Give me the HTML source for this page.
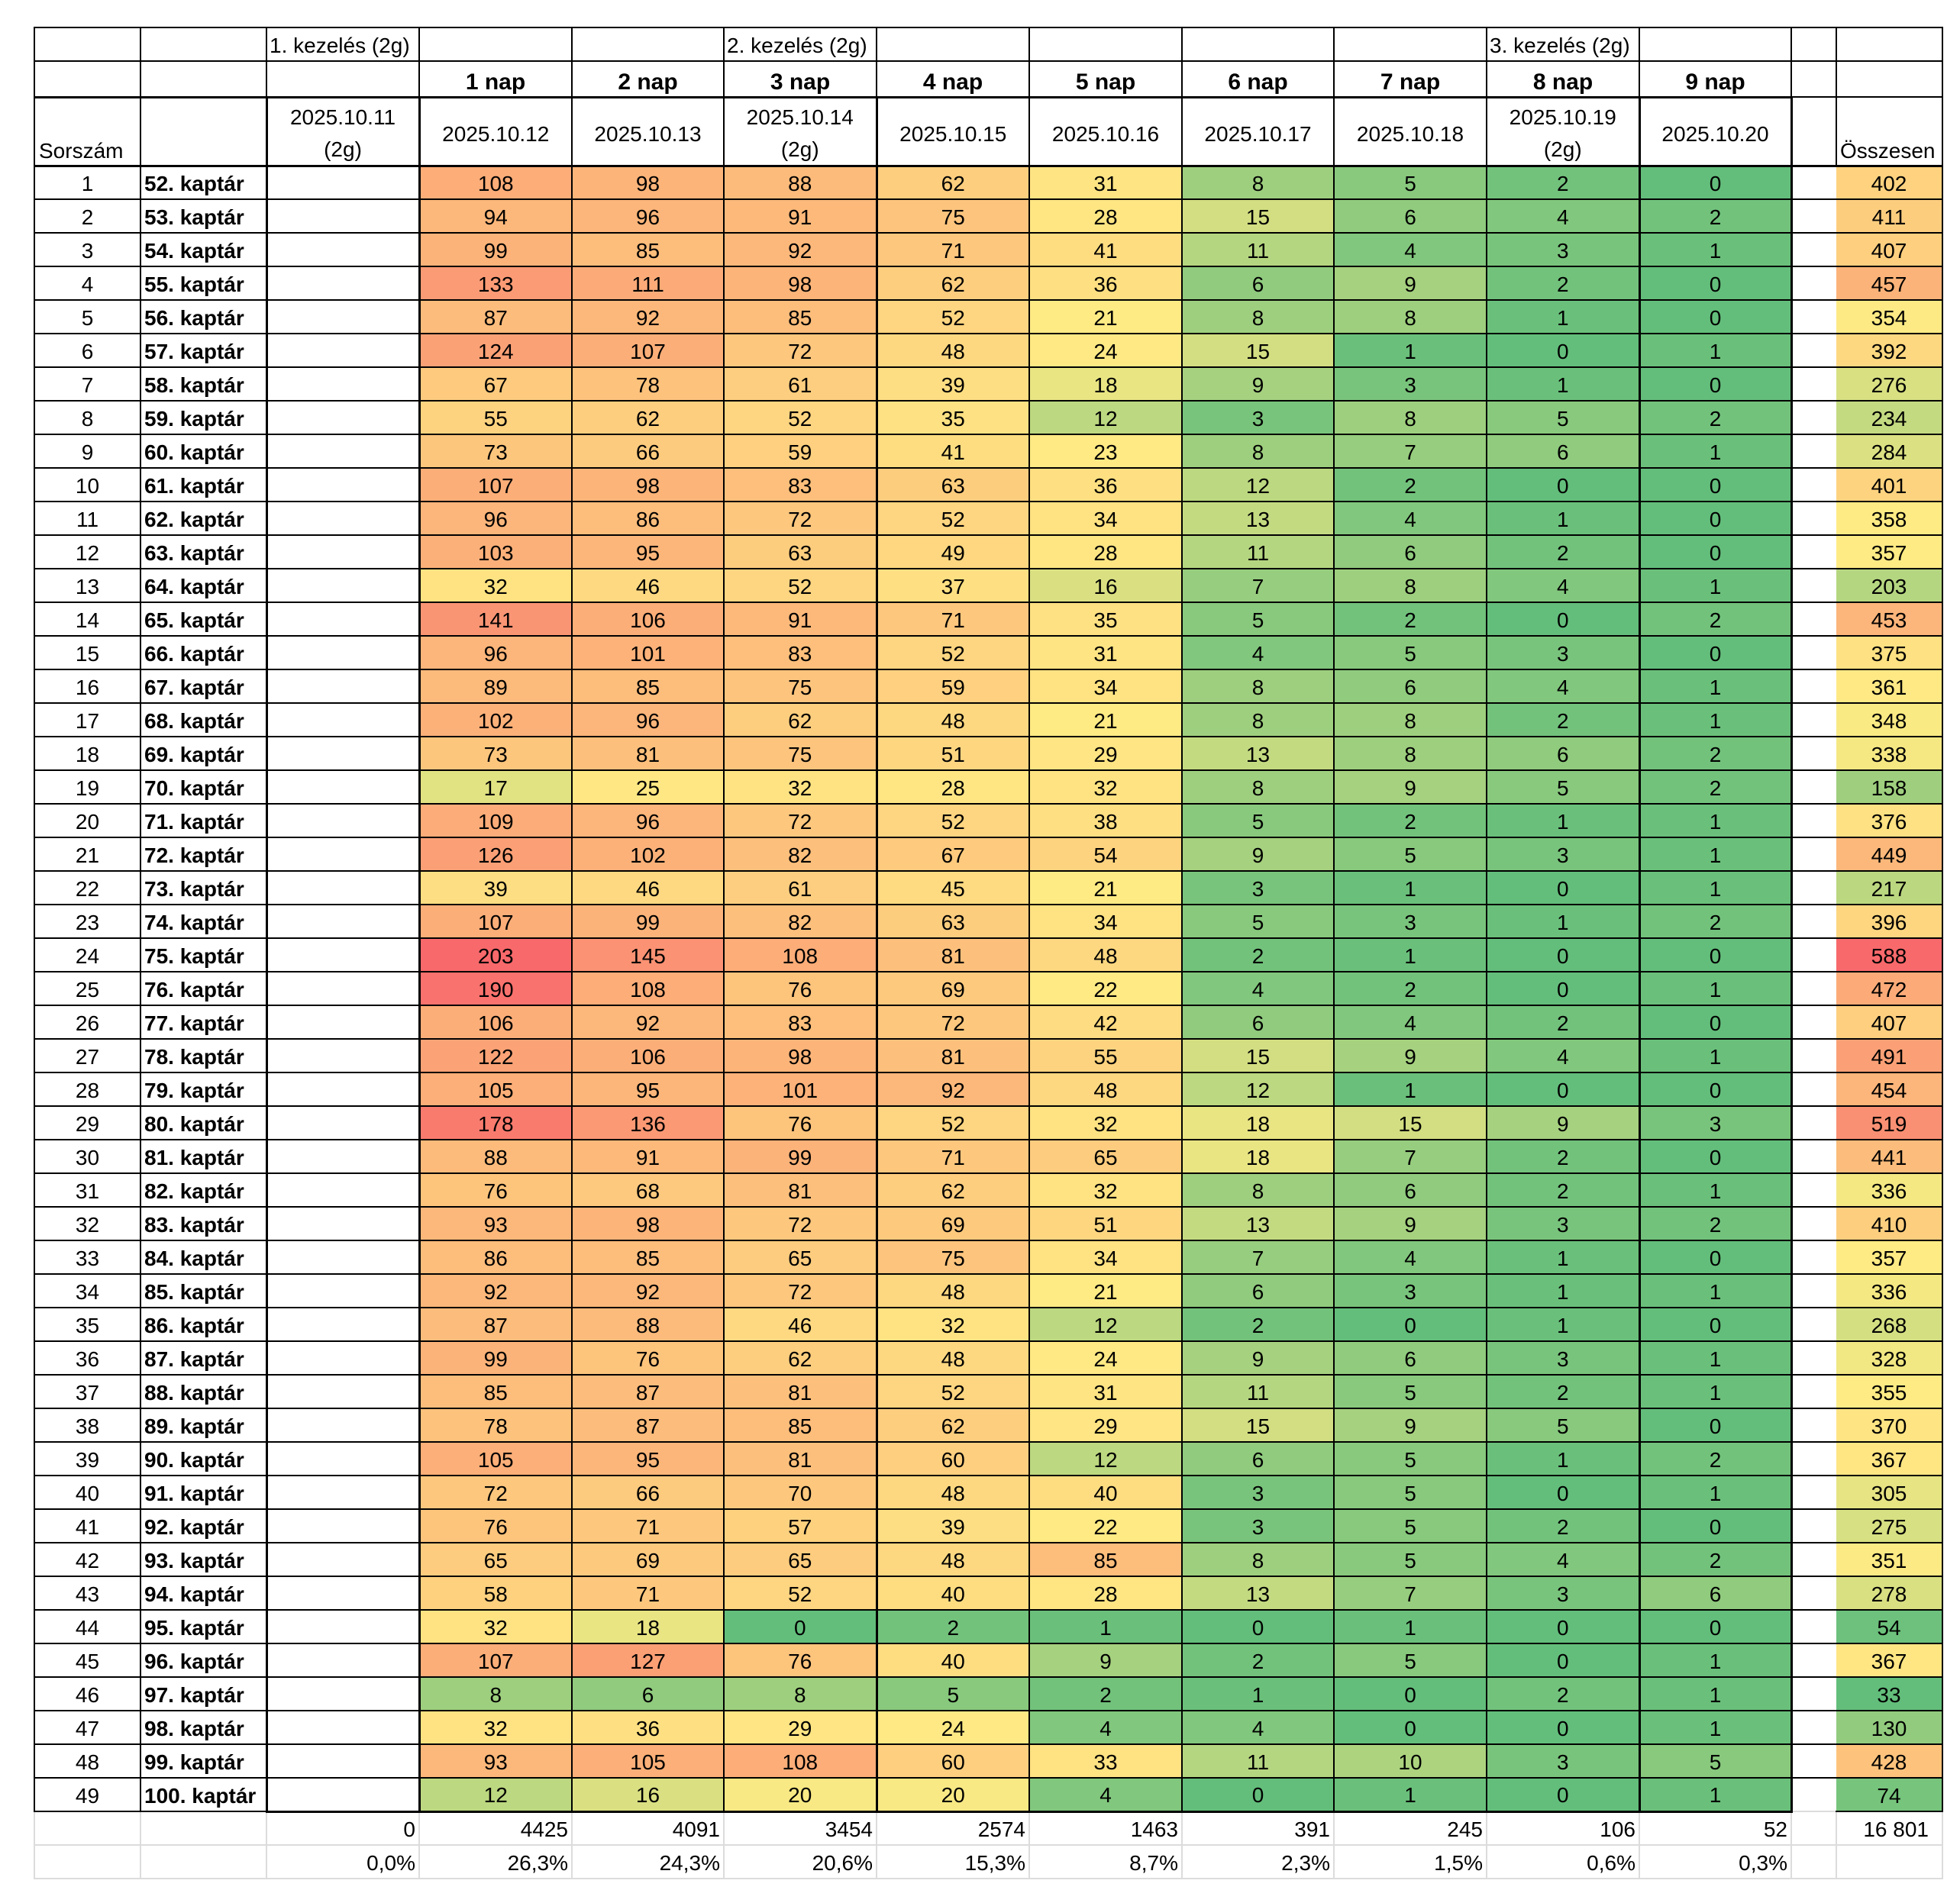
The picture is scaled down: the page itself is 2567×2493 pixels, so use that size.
<!DOCTYPE html>
<html>
<head>
<meta charset="utf-8">
<style>
html,body{margin:0;padding:0;background:#fff;}
body{width:2567px;height:2493px;overflow:hidden;position:relative;}
table{position:absolute;left:44px;top:35px;border-collapse:collapse;table-layout:fixed;width:2501px;font-family:"Liberation Sans",Arial,sans-serif;font-size:28px;color:#000;}
td{border:2px solid #000;padding:0;white-space:nowrap;overflow:visible;text-align:center;}
tr.a{height:44px}
tr.a td{vertical-align:bottom;padding-bottom:3px;text-align:left;padding-left:3px}
tr.b{height:47px}
tr.b td{vertical-align:bottom;padding-bottom:1px;font-weight:bold;font-size:30px;border-bottom-width:3px}
tr.b td:nth-child(n+13){border-bottom-width:2px}
tr.h{height:90px}
tr.h td{border-bottom-width:3px;vertical-align:middle}
tr.h td div{position:relative;top:4px}
tr.h td div.m{line-height:42px;top:3px}
tr.h td.bl{vertical-align:bottom;text-align:left;padding-bottom:2px;padding-left:5px}
tr.h td.bl2{vertical-align:bottom;text-align:left;padding-bottom:2px;padding-left:4px}
tr.h td:nth-child(3),tr.r td:nth-child(3){border-left-width:3px;border-right-width:3px}
tr.h td:nth-child(6),tr.r td:nth-child(6){border-right-width:3px}
tr.h td:nth-child(12),tr.r td:nth-child(12){border-left-width:3px;border-right-width:3px}
tr.r{height:44px}
tr.r td{vertical-align:middle;padding-top:3px}
tr.r td:nth-child(2){font-weight:bold;text-align:left;padding-left:4px}
tr.r td:nth-child(13){border-right:none}
tr.r td:nth-child(14){border-left:none}
tr.last td:nth-child(n+3):nth-child(-n+12){border-bottom-width:3px}
tr.last td:nth-child(13){border-bottom:none}
tr.r td:nth-child(n+4):nth-child(-n+12){--t1:calc(min(var(--v), 21) / 21);--t2:calc(max(var(--v) - 21, 0) / 182)}
tr.r td:nth-child(14){--t1:calc((min(var(--v), 358) - 33) / 325);--t2:calc(max(var(--v) - 358, 0) / 230)}
tr.r td[style]{background:rgb(calc(99 + 156*var(--t1) - 7*var(--t2)),calc(190 + 45*var(--t1) - 130*var(--t2)),calc(123 + 9*var(--t1) - 25*var(--t2)))}
tr.f{height:44px}
tr.f td{border:2px solid #DCDCDC;text-align:right;padding-right:4px;vertical-align:middle;padding-top:3px}
tr.f td.t{padding-right:17px}
</style>
</head>
<body>
<table>
<colgroup>
<col style="width:139px"><col style="width:165px"><col style="width:200px">
<col style="width:200px"><col style="width:199px"><col style="width:200px"><col style="width:200px"><col style="width:200px"><col style="width:199px"><col style="width:200px"><col style="width:200px"><col style="width:199px">
<col style="width:59px"><col style="width:139px">
</colgroup>
<tr class="a"><td></td><td></td><td>1. kezelés (2g)</td><td></td><td></td><td>2. kezelés (2g)</td><td></td><td></td><td></td><td></td><td>3. kezelés (2g)</td><td></td><td></td><td></td></tr>
<tr class="b"><td></td><td></td><td></td><td>1 nap</td><td>2 nap</td><td>3 nap</td><td>4 nap</td><td>5 nap</td><td>6 nap</td><td>7 nap</td><td>8 nap</td><td>9 nap</td><td></td><td></td></tr>
<tr class="h"><td class="bl">Sorszám</td><td></td><td><div class="m">2025.10.11<br>(2g)</div></td><td><div>2025.10.12</div></td><td><div>2025.10.13</div></td><td><div class="m">2025.10.14<br>(2g)</div></td><td><div>2025.10.15</div></td><td><div>2025.10.16</div></td><td><div>2025.10.17</div></td><td><div>2025.10.18</div></td><td><div class="m">2025.10.19<br>(2g)</div></td><td><div>2025.10.20</div></td><td></td><td class="bl2">Összesen</td></tr>
<tr class="r"><td>1</td><td>52. kaptár</td><td></td><td style="--v:108">108</td><td style="--v:98">98</td><td style="--v:88">88</td><td style="--v:62">62</td><td style="--v:31">31</td><td style="--v:8">8</td><td style="--v:5">5</td><td style="--v:2">2</td><td style="--v:0">0</td><td></td><td style="--v:402">402</td></tr>
<tr class="r"><td>2</td><td>53. kaptár</td><td></td><td style="--v:94">94</td><td style="--v:96">96</td><td style="--v:91">91</td><td style="--v:75">75</td><td style="--v:28">28</td><td style="--v:15">15</td><td style="--v:6">6</td><td style="--v:4">4</td><td style="--v:2">2</td><td></td><td style="--v:411">411</td></tr>
<tr class="r"><td>3</td><td>54. kaptár</td><td></td><td style="--v:99">99</td><td style="--v:85">85</td><td style="--v:92">92</td><td style="--v:71">71</td><td style="--v:41">41</td><td style="--v:11">11</td><td style="--v:4">4</td><td style="--v:3">3</td><td style="--v:1">1</td><td></td><td style="--v:407">407</td></tr>
<tr class="r"><td>4</td><td>55. kaptár</td><td></td><td style="--v:133">133</td><td style="--v:111">111</td><td style="--v:98">98</td><td style="--v:62">62</td><td style="--v:36">36</td><td style="--v:6">6</td><td style="--v:9">9</td><td style="--v:2">2</td><td style="--v:0">0</td><td></td><td style="--v:457">457</td></tr>
<tr class="r"><td>5</td><td>56. kaptár</td><td></td><td style="--v:87">87</td><td style="--v:92">92</td><td style="--v:85">85</td><td style="--v:52">52</td><td style="--v:21">21</td><td style="--v:8">8</td><td style="--v:8">8</td><td style="--v:1">1</td><td style="--v:0">0</td><td></td><td style="--v:354">354</td></tr>
<tr class="r"><td>6</td><td>57. kaptár</td><td></td><td style="--v:124">124</td><td style="--v:107">107</td><td style="--v:72">72</td><td style="--v:48">48</td><td style="--v:24">24</td><td style="--v:15">15</td><td style="--v:1">1</td><td style="--v:0">0</td><td style="--v:1">1</td><td></td><td style="--v:392">392</td></tr>
<tr class="r"><td>7</td><td>58. kaptár</td><td></td><td style="--v:67">67</td><td style="--v:78">78</td><td style="--v:61">61</td><td style="--v:39">39</td><td style="--v:18">18</td><td style="--v:9">9</td><td style="--v:3">3</td><td style="--v:1">1</td><td style="--v:0">0</td><td></td><td style="--v:276">276</td></tr>
<tr class="r"><td>8</td><td>59. kaptár</td><td></td><td style="--v:55">55</td><td style="--v:62">62</td><td style="--v:52">52</td><td style="--v:35">35</td><td style="--v:12">12</td><td style="--v:3">3</td><td style="--v:8">8</td><td style="--v:5">5</td><td style="--v:2">2</td><td></td><td style="--v:234">234</td></tr>
<tr class="r"><td>9</td><td>60. kaptár</td><td></td><td style="--v:73">73</td><td style="--v:66">66</td><td style="--v:59">59</td><td style="--v:41">41</td><td style="--v:23">23</td><td style="--v:8">8</td><td style="--v:7">7</td><td style="--v:6">6</td><td style="--v:1">1</td><td></td><td style="--v:284">284</td></tr>
<tr class="r"><td>10</td><td>61. kaptár</td><td></td><td style="--v:107">107</td><td style="--v:98">98</td><td style="--v:83">83</td><td style="--v:63">63</td><td style="--v:36">36</td><td style="--v:12">12</td><td style="--v:2">2</td><td style="--v:0">0</td><td style="--v:0">0</td><td></td><td style="--v:401">401</td></tr>
<tr class="r"><td>11</td><td>62. kaptár</td><td></td><td style="--v:96">96</td><td style="--v:86">86</td><td style="--v:72">72</td><td style="--v:52">52</td><td style="--v:34">34</td><td style="--v:13">13</td><td style="--v:4">4</td><td style="--v:1">1</td><td style="--v:0">0</td><td></td><td style="--v:358">358</td></tr>
<tr class="r"><td>12</td><td>63. kaptár</td><td></td><td style="--v:103">103</td><td style="--v:95">95</td><td style="--v:63">63</td><td style="--v:49">49</td><td style="--v:28">28</td><td style="--v:11">11</td><td style="--v:6">6</td><td style="--v:2">2</td><td style="--v:0">0</td><td></td><td style="--v:357">357</td></tr>
<tr class="r"><td>13</td><td>64. kaptár</td><td></td><td style="--v:32">32</td><td style="--v:46">46</td><td style="--v:52">52</td><td style="--v:37">37</td><td style="--v:16">16</td><td style="--v:7">7</td><td style="--v:8">8</td><td style="--v:4">4</td><td style="--v:1">1</td><td></td><td style="--v:203">203</td></tr>
<tr class="r"><td>14</td><td>65. kaptár</td><td></td><td style="--v:141">141</td><td style="--v:106">106</td><td style="--v:91">91</td><td style="--v:71">71</td><td style="--v:35">35</td><td style="--v:5">5</td><td style="--v:2">2</td><td style="--v:0">0</td><td style="--v:2">2</td><td></td><td style="--v:453">453</td></tr>
<tr class="r"><td>15</td><td>66. kaptár</td><td></td><td style="--v:96">96</td><td style="--v:101">101</td><td style="--v:83">83</td><td style="--v:52">52</td><td style="--v:31">31</td><td style="--v:4">4</td><td style="--v:5">5</td><td style="--v:3">3</td><td style="--v:0">0</td><td></td><td style="--v:375">375</td></tr>
<tr class="r"><td>16</td><td>67. kaptár</td><td></td><td style="--v:89">89</td><td style="--v:85">85</td><td style="--v:75">75</td><td style="--v:59">59</td><td style="--v:34">34</td><td style="--v:8">8</td><td style="--v:6">6</td><td style="--v:4">4</td><td style="--v:1">1</td><td></td><td style="--v:361">361</td></tr>
<tr class="r"><td>17</td><td>68. kaptár</td><td></td><td style="--v:102">102</td><td style="--v:96">96</td><td style="--v:62">62</td><td style="--v:48">48</td><td style="--v:21">21</td><td style="--v:8">8</td><td style="--v:8">8</td><td style="--v:2">2</td><td style="--v:1">1</td><td></td><td style="--v:348">348</td></tr>
<tr class="r"><td>18</td><td>69. kaptár</td><td></td><td style="--v:73">73</td><td style="--v:81">81</td><td style="--v:75">75</td><td style="--v:51">51</td><td style="--v:29">29</td><td style="--v:13">13</td><td style="--v:8">8</td><td style="--v:6">6</td><td style="--v:2">2</td><td></td><td style="--v:338">338</td></tr>
<tr class="r"><td>19</td><td>70. kaptár</td><td></td><td style="--v:17">17</td><td style="--v:25">25</td><td style="--v:32">32</td><td style="--v:28">28</td><td style="--v:32">32</td><td style="--v:8">8</td><td style="--v:9">9</td><td style="--v:5">5</td><td style="--v:2">2</td><td></td><td style="--v:158">158</td></tr>
<tr class="r"><td>20</td><td>71. kaptár</td><td></td><td style="--v:109">109</td><td style="--v:96">96</td><td style="--v:72">72</td><td style="--v:52">52</td><td style="--v:38">38</td><td style="--v:5">5</td><td style="--v:2">2</td><td style="--v:1">1</td><td style="--v:1">1</td><td></td><td style="--v:376">376</td></tr>
<tr class="r"><td>21</td><td>72. kaptár</td><td></td><td style="--v:126">126</td><td style="--v:102">102</td><td style="--v:82">82</td><td style="--v:67">67</td><td style="--v:54">54</td><td style="--v:9">9</td><td style="--v:5">5</td><td style="--v:3">3</td><td style="--v:1">1</td><td></td><td style="--v:449">449</td></tr>
<tr class="r"><td>22</td><td>73. kaptár</td><td></td><td style="--v:39">39</td><td style="--v:46">46</td><td style="--v:61">61</td><td style="--v:45">45</td><td style="--v:21">21</td><td style="--v:3">3</td><td style="--v:1">1</td><td style="--v:0">0</td><td style="--v:1">1</td><td></td><td style="--v:217">217</td></tr>
<tr class="r"><td>23</td><td>74. kaptár</td><td></td><td style="--v:107">107</td><td style="--v:99">99</td><td style="--v:82">82</td><td style="--v:63">63</td><td style="--v:34">34</td><td style="--v:5">5</td><td style="--v:3">3</td><td style="--v:1">1</td><td style="--v:2">2</td><td></td><td style="--v:396">396</td></tr>
<tr class="r"><td>24</td><td>75. kaptár</td><td></td><td style="--v:203">203</td><td style="--v:145">145</td><td style="--v:108">108</td><td style="--v:81">81</td><td style="--v:48">48</td><td style="--v:2">2</td><td style="--v:1">1</td><td style="--v:0">0</td><td style="--v:0">0</td><td></td><td style="--v:588">588</td></tr>
<tr class="r"><td>25</td><td>76. kaptár</td><td></td><td style="--v:190">190</td><td style="--v:108">108</td><td style="--v:76">76</td><td style="--v:69">69</td><td style="--v:22">22</td><td style="--v:4">4</td><td style="--v:2">2</td><td style="--v:0">0</td><td style="--v:1">1</td><td></td><td style="--v:472">472</td></tr>
<tr class="r"><td>26</td><td>77. kaptár</td><td></td><td style="--v:106">106</td><td style="--v:92">92</td><td style="--v:83">83</td><td style="--v:72">72</td><td style="--v:42">42</td><td style="--v:6">6</td><td style="--v:4">4</td><td style="--v:2">2</td><td style="--v:0">0</td><td></td><td style="--v:407">407</td></tr>
<tr class="r"><td>27</td><td>78. kaptár</td><td></td><td style="--v:122">122</td><td style="--v:106">106</td><td style="--v:98">98</td><td style="--v:81">81</td><td style="--v:55">55</td><td style="--v:15">15</td><td style="--v:9">9</td><td style="--v:4">4</td><td style="--v:1">1</td><td></td><td style="--v:491">491</td></tr>
<tr class="r"><td>28</td><td>79. kaptár</td><td></td><td style="--v:105">105</td><td style="--v:95">95</td><td style="--v:101">101</td><td style="--v:92">92</td><td style="--v:48">48</td><td style="--v:12">12</td><td style="--v:1">1</td><td style="--v:0">0</td><td style="--v:0">0</td><td></td><td style="--v:454">454</td></tr>
<tr class="r"><td>29</td><td>80. kaptár</td><td></td><td style="--v:178">178</td><td style="--v:136">136</td><td style="--v:76">76</td><td style="--v:52">52</td><td style="--v:32">32</td><td style="--v:18">18</td><td style="--v:15">15</td><td style="--v:9">9</td><td style="--v:3">3</td><td></td><td style="--v:519">519</td></tr>
<tr class="r"><td>30</td><td>81. kaptár</td><td></td><td style="--v:88">88</td><td style="--v:91">91</td><td style="--v:99">99</td><td style="--v:71">71</td><td style="--v:65">65</td><td style="--v:18">18</td><td style="--v:7">7</td><td style="--v:2">2</td><td style="--v:0">0</td><td></td><td style="--v:441">441</td></tr>
<tr class="r"><td>31</td><td>82. kaptár</td><td></td><td style="--v:76">76</td><td style="--v:68">68</td><td style="--v:81">81</td><td style="--v:62">62</td><td style="--v:32">32</td><td style="--v:8">8</td><td style="--v:6">6</td><td style="--v:2">2</td><td style="--v:1">1</td><td></td><td style="--v:336">336</td></tr>
<tr class="r"><td>32</td><td>83. kaptár</td><td></td><td style="--v:93">93</td><td style="--v:98">98</td><td style="--v:72">72</td><td style="--v:69">69</td><td style="--v:51">51</td><td style="--v:13">13</td><td style="--v:9">9</td><td style="--v:3">3</td><td style="--v:2">2</td><td></td><td style="--v:410">410</td></tr>
<tr class="r"><td>33</td><td>84. kaptár</td><td></td><td style="--v:86">86</td><td style="--v:85">85</td><td style="--v:65">65</td><td style="--v:75">75</td><td style="--v:34">34</td><td style="--v:7">7</td><td style="--v:4">4</td><td style="--v:1">1</td><td style="--v:0">0</td><td></td><td style="--v:357">357</td></tr>
<tr class="r"><td>34</td><td>85. kaptár</td><td></td><td style="--v:92">92</td><td style="--v:92">92</td><td style="--v:72">72</td><td style="--v:48">48</td><td style="--v:21">21</td><td style="--v:6">6</td><td style="--v:3">3</td><td style="--v:1">1</td><td style="--v:1">1</td><td></td><td style="--v:336">336</td></tr>
<tr class="r"><td>35</td><td>86. kaptár</td><td></td><td style="--v:87">87</td><td style="--v:88">88</td><td style="--v:46">46</td><td style="--v:32">32</td><td style="--v:12">12</td><td style="--v:2">2</td><td style="--v:0">0</td><td style="--v:1">1</td><td style="--v:0">0</td><td></td><td style="--v:268">268</td></tr>
<tr class="r"><td>36</td><td>87. kaptár</td><td></td><td style="--v:99">99</td><td style="--v:76">76</td><td style="--v:62">62</td><td style="--v:48">48</td><td style="--v:24">24</td><td style="--v:9">9</td><td style="--v:6">6</td><td style="--v:3">3</td><td style="--v:1">1</td><td></td><td style="--v:328">328</td></tr>
<tr class="r"><td>37</td><td>88. kaptár</td><td></td><td style="--v:85">85</td><td style="--v:87">87</td><td style="--v:81">81</td><td style="--v:52">52</td><td style="--v:31">31</td><td style="--v:11">11</td><td style="--v:5">5</td><td style="--v:2">2</td><td style="--v:1">1</td><td></td><td style="--v:355">355</td></tr>
<tr class="r"><td>38</td><td>89. kaptár</td><td></td><td style="--v:78">78</td><td style="--v:87">87</td><td style="--v:85">85</td><td style="--v:62">62</td><td style="--v:29">29</td><td style="--v:15">15</td><td style="--v:9">9</td><td style="--v:5">5</td><td style="--v:0">0</td><td></td><td style="--v:370">370</td></tr>
<tr class="r"><td>39</td><td>90. kaptár</td><td></td><td style="--v:105">105</td><td style="--v:95">95</td><td style="--v:81">81</td><td style="--v:60">60</td><td style="--v:12">12</td><td style="--v:6">6</td><td style="--v:5">5</td><td style="--v:1">1</td><td style="--v:2">2</td><td></td><td style="--v:367">367</td></tr>
<tr class="r"><td>40</td><td>91. kaptár</td><td></td><td style="--v:72">72</td><td style="--v:66">66</td><td style="--v:70">70</td><td style="--v:48">48</td><td style="--v:40">40</td><td style="--v:3">3</td><td style="--v:5">5</td><td style="--v:0">0</td><td style="--v:1">1</td><td></td><td style="--v:305">305</td></tr>
<tr class="r"><td>41</td><td>92. kaptár</td><td></td><td style="--v:76">76</td><td style="--v:71">71</td><td style="--v:57">57</td><td style="--v:39">39</td><td style="--v:22">22</td><td style="--v:3">3</td><td style="--v:5">5</td><td style="--v:2">2</td><td style="--v:0">0</td><td></td><td style="--v:275">275</td></tr>
<tr class="r"><td>42</td><td>93. kaptár</td><td></td><td style="--v:65">65</td><td style="--v:69">69</td><td style="--v:65">65</td><td style="--v:48">48</td><td style="--v:85">85</td><td style="--v:8">8</td><td style="--v:5">5</td><td style="--v:4">4</td><td style="--v:2">2</td><td></td><td style="--v:351">351</td></tr>
<tr class="r"><td>43</td><td>94. kaptár</td><td></td><td style="--v:58">58</td><td style="--v:71">71</td><td style="--v:52">52</td><td style="--v:40">40</td><td style="--v:28">28</td><td style="--v:13">13</td><td style="--v:7">7</td><td style="--v:3">3</td><td style="--v:6">6</td><td></td><td style="--v:278">278</td></tr>
<tr class="r"><td>44</td><td>95. kaptár</td><td></td><td style="--v:32">32</td><td style="--v:18">18</td><td style="--v:0">0</td><td style="--v:2">2</td><td style="--v:1">1</td><td style="--v:0">0</td><td style="--v:1">1</td><td style="--v:0">0</td><td style="--v:0">0</td><td></td><td style="--v:54">54</td></tr>
<tr class="r"><td>45</td><td>96. kaptár</td><td></td><td style="--v:107">107</td><td style="--v:127">127</td><td style="--v:76">76</td><td style="--v:40">40</td><td style="--v:9">9</td><td style="--v:2">2</td><td style="--v:5">5</td><td style="--v:0">0</td><td style="--v:1">1</td><td></td><td style="--v:367">367</td></tr>
<tr class="r"><td>46</td><td>97. kaptár</td><td></td><td style="--v:8">8</td><td style="--v:6">6</td><td style="--v:8">8</td><td style="--v:5">5</td><td style="--v:2">2</td><td style="--v:1">1</td><td style="--v:0">0</td><td style="--v:2">2</td><td style="--v:1">1</td><td></td><td style="--v:33">33</td></tr>
<tr class="r"><td>47</td><td>98. kaptár</td><td></td><td style="--v:32">32</td><td style="--v:36">36</td><td style="--v:29">29</td><td style="--v:24">24</td><td style="--v:4">4</td><td style="--v:4">4</td><td style="--v:0">0</td><td style="--v:0">0</td><td style="--v:1">1</td><td></td><td style="--v:130">130</td></tr>
<tr class="r"><td>48</td><td>99. kaptár</td><td></td><td style="--v:93">93</td><td style="--v:105">105</td><td style="--v:108">108</td><td style="--v:60">60</td><td style="--v:33">33</td><td style="--v:11">11</td><td style="--v:10">10</td><td style="--v:3">3</td><td style="--v:5">5</td><td></td><td style="--v:428">428</td></tr>
<tr class="r last"><td>49</td><td>100. kaptár</td><td></td><td style="--v:12">12</td><td style="--v:16">16</td><td style="--v:20">20</td><td style="--v:20">20</td><td style="--v:4">4</td><td style="--v:0">0</td><td style="--v:1">1</td><td style="--v:0">0</td><td style="--v:1">1</td><td></td><td style="--v:74">74</td></tr>
<tr class="f"><td></td><td></td><td>0</td><td>4425</td><td>4091</td><td>3454</td><td>2574</td><td>1463</td><td>391</td><td>245</td><td>106</td><td>52</td><td></td><td class="t">16 801</td></tr>
<tr class="f"><td></td><td></td><td>0,0%</td><td>26,3%</td><td>24,3%</td><td>20,6%</td><td>15,3%</td><td>8,7%</td><td>2,3%</td><td>1,5%</td><td>0,6%</td><td>0,3%</td><td></td><td></td></tr>
</table>
</body>
</html>
